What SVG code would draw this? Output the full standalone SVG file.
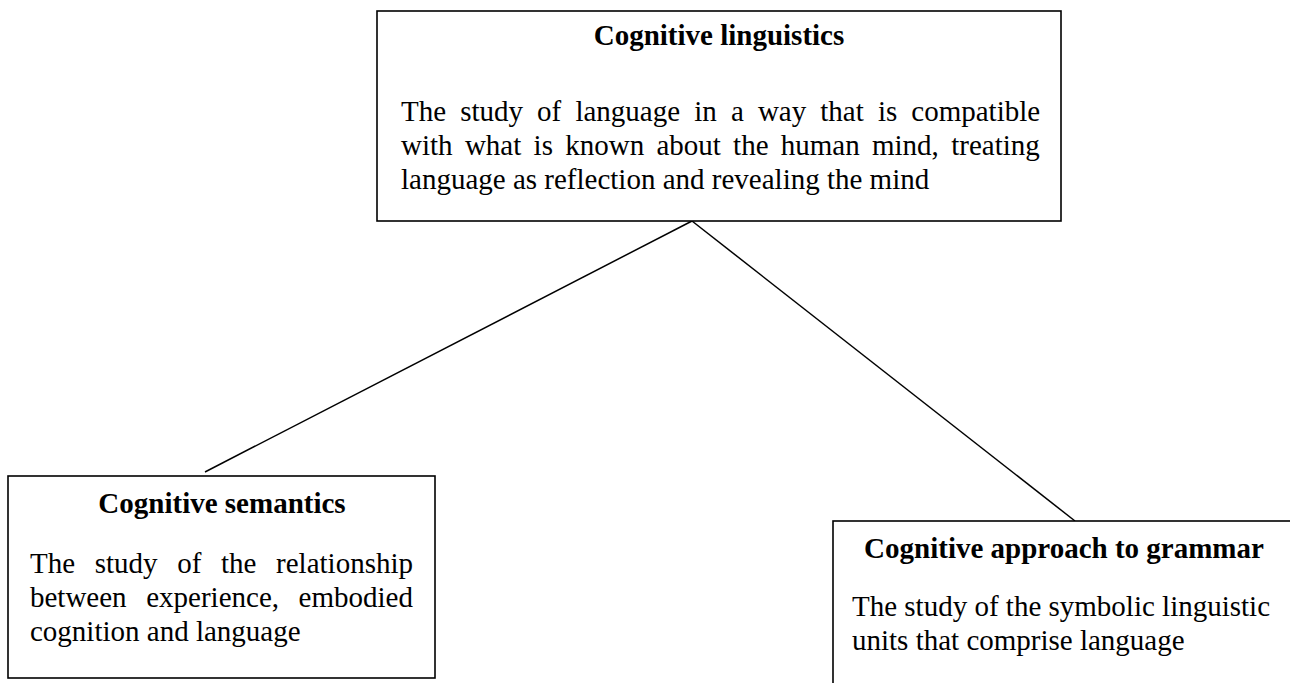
<svg xmlns="http://www.w3.org/2000/svg" width="1290" height="683" viewBox="0 0 1290 683">
<style>
.box{fill:#fff;stroke:#000;stroke-width:1.6}
.t{font-family:"Liberation Serif","Times New Roman",serif;font-size:29px;fill:#000}
.b{font-weight:bold;text-anchor:middle}
.ln{stroke:#000;stroke-width:1.5;fill:none}
</style>
<rect width="1290" height="683" fill="#fff"/>
<g id="connectors">
<line class="ln" x1="692" y1="221" x2="205" y2="472"/>
<line class="ln" x1="692" y1="221" x2="1075" y2="521"/>
</g>
<g id="node-cognitive-linguistics">
<rect class="box" x="377" y="11" width="684" height="210"/>
<text class="t b" x="719" y="45">Cognitive linguistics</text>
<text class="t" y="121"><tspan x="401">The</tspan><tspan x="460.2">study</tspan><tspan x="537.1">of</tspan><tspan x="575.4">language</tspan><tspan x="694.2">in</tspan><tspan x="730.9">a</tspan><tspan x="757.9">way</tspan><tspan x="820.3">that</tspan><tspan x="877.9">is</tspan><tspan x="911.3">compatible</tspan></text>
<text class="t" y="155"><tspan x="401">with</tspan><tspan x="464.9">what</tspan><tspan x="533.6">is</tspan><tspan x="565.2">known</tspan><tspan x="656.4">about</tspan><tspan x="733.1">the</tspan><tspan x="780.8">human</tspan><tspan x="872">mind,</tspan><tspan x="951.2">treating</tspan></text>
<text class="t" x="401" y="189">language as reflection and revealing the mind</text>
</g>
<g id="node-cognitive-semantics">
<rect class="box" x="8" y="476" width="427" height="202"/>
<text class="t b" x="222" y="513">Cognitive semantics</text>
<text class="t" y="573"><tspan x="30">The</tspan><tspan x="94.75">study</tspan><tspan x="177.2">of</tspan><tspan x="221.05">the</tspan><tspan x="276.1">relationship</tspan></text>
<text class="t" y="607"><tspan x="30">between</tspan><tspan x="146.2">experience,</tspan><tspan x="298.6">embodied</tspan></text>
<text class="t" x="30" y="641">cognition and language</text>
</g>
<g id="node-cognitive-grammar">
<rect class="box" x="833" y="521" width="470" height="180"/>
<text class="t b" x="1064" y="558">Cognitive approach to grammar</text>
<text class="t" x="852" y="616">The study of the symbolic linguistic</text>
<text class="t" x="852" y="650">units that comprise language</text>
</g>
</svg>
